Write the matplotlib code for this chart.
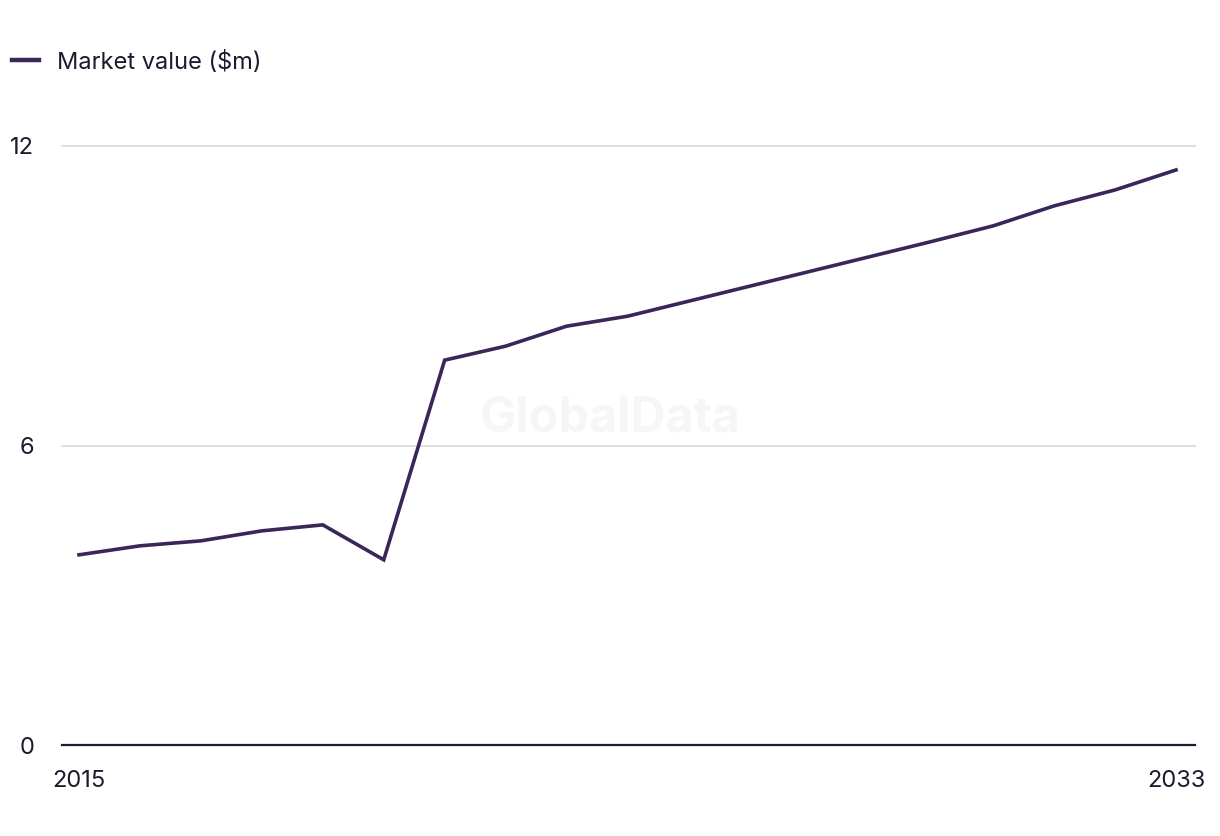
import matplotlib
matplotlib.use("Agg")
import matplotlib.pyplot as plt

years = list(range(2015, 2034))
market_value = [3.81, 3.99, 4.09, 4.29, 4.41, 3.71, 7.71, 7.99, 8.39, 8.59,
                8.89, 9.19, 9.49, 9.79, 10.09, 10.40, 10.80, 11.12, 11.52]
y_ticks = [0, 6, 12]
x_tick_labels = ["2015", "2033"]
series_label = "Market value ($m)"

plt.rcParams['font.family'] = ['Inter', 'DejaVu Sans']
text_color = "#1c1b2e"
line_color = "#3a2657"

fig = plt.figure(figsize=(12.2, 8.36), dpi=100)
ax = fig.add_axes([62/1220, 91/836, 1133/1220, 599/836])

ax.plot(years, market_value, color=line_color, lw=2.6, label=series_label,
        solid_joinstyle='miter', clip_on=False, zorder=3)

ax.set_xlim(2015 - 17/60.94, 2033 + 19/60.94)
ax.set_ylim(0, 12)
ax.set_yticks(y_ticks)
ax.set_yticklabels([str(t) for t in y_ticks])
ax.set_xticks([years[0], years[-1]])
ax.set_xticklabels(x_tick_labels)

for t in y_ticks[1:]:
    ax.axhline(t, color="#d9d9d9", lw=1.2, zorder=1, clip_on=False)

for s in ["top", "right", "left"]:
    ax.spines[s].set_visible(False)
ax.spines["bottom"].set_color(text_color)
ax.spines["bottom"].set_linewidth(1.6)
ax.spines["bottom"].set_zorder(4)

ax.tick_params(axis='y', length=0, pad=20, labelsize=17, labelcolor=text_color)
ax.tick_params(axis='x', length=0, pad=18, labelsize=17, labelcolor=text_color)

ax.text(0.5, 0.5, "GlobalData", transform=fig.transFigure, ha='center', va='center',
        fontsize=35, fontweight='bold', color="#f6f6f6", zorder=0)

leg = fig.legend(loc='center left', bbox_to_anchor=(12/1220, 1 - 62/836), frameon=False,
                 fontsize=17, handlelength=1.15, handletextpad=0.75, borderpad=0,
                 borderaxespad=0, labelcolor=text_color)
for h in leg.get_lines():
    h.set_linewidth(3.2)

fig.savefig("out.png", dpi=100, facecolor="white")
